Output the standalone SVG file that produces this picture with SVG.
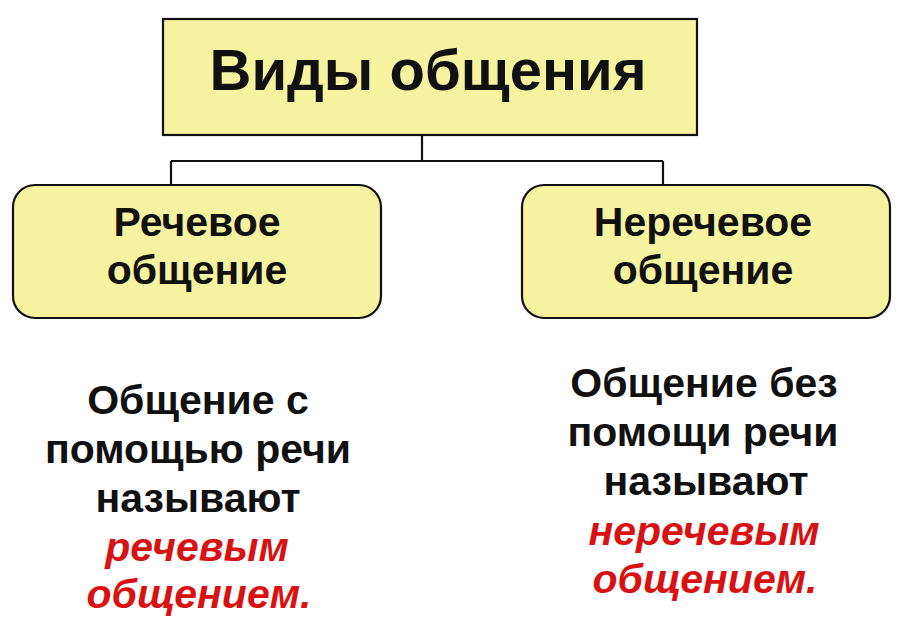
<svg xmlns="http://www.w3.org/2000/svg" width="900" height="626" viewBox="0 0 900 626">
<style>
.box{fill:#f6f3a0;stroke:#111;stroke-width:2.2}
.t{font-family:"Liberation Sans",Arial,sans-serif;font-weight:bold;fill:#111;text-anchor:middle}
.r{font-family:"Liberation Sans",Arial,sans-serif;font-weight:bold;font-style:italic;fill:#d81212;text-anchor:middle}
.c{fill:none;stroke:#111;stroke-width:2.2}
</style>
<rect width="900" height="626" fill="#ffffff"/>
<g id="connectors">
<path class="c" d="M422,135 V161 M171,161 H663 M171,161 V185 M663,161 V185"/>
</g>
<g id="root">
<rect class="box" x="163" y="19" width="534" height="116"/>
<text class="t" x="428" y="90" font-size="58">Виды общения</text>
</g>
<g id="speech">
<rect class="box" x="13" y="185" width="368" height="133" rx="22"/>
<text class="t" x="197" y="236" font-size="41">Речевое</text>
<text class="t" x="197" y="284" font-size="41">общение</text>
</g>
<g id="nonspeech">
<rect class="box" x="522" y="185" width="368" height="133" rx="22"/>
<text class="t" x="703" y="236" font-size="41">Неречевое</text>
<text class="t" x="703" y="284" font-size="41">общение</text>
</g>
<g id="speech-desc">
<text class="t" x="198" y="414" font-size="41">Общение с</text>
<text class="t" x="198" y="463" font-size="41">помощью речи</text>
<text class="t" x="198" y="512" font-size="41">называют</text>
<text class="r" x="197" y="561" font-size="41">речевым</text>
<text class="r" x="199" y="608" font-size="41">общением.</text>
</g>
<g id="nonspeech-desc">
<text class="t" x="704" y="397" font-size="41">Общение без</text>
<text class="t" x="703" y="446" font-size="41">помощи речи</text>
<text class="t" x="706" y="495" font-size="41">называют</text>
<text class="r" x="704" y="545" font-size="41">неречевым</text>
<text class="r" x="705" y="593" font-size="41">общением.</text>
</g>
</svg>
